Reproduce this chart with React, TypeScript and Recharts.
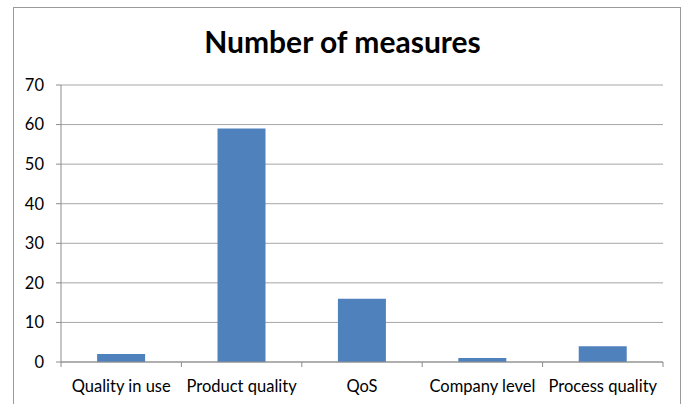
import { Bar, BarChart, CartesianGrid, XAxis, YAxis } from 'recharts';

const categories = ['Quality in use', 'Product quality', 'QoS', 'Company level', 'Process quality'];
const measures = [2, 59, 16, 1, 4];
const yTicks = [0, 10, 20, 30, 40, 50, 60, 70];

const data = categories.map((name, i) => ({ name, measures: measures[i] }));

const CHART_W = 685;
const CHART_H = 404;
const MARGIN = { top: 85, right: 22, bottom: 12, left: 21 };
const Y_AXIS_W = 40;
const AXIS_COLOR = '#8c8c8c';
const FONT = 'Lato, sans-serif';
const TICK_SIZE = 16.5;

// Category label at the band centre, tick marks on the band edges (Excel style)
function CategoryTick(props: any) {
  const { x, y, payload, index } = props;
  const plotW = CHART_W - MARGIN.left - MARGIN.right - Y_AXIS_W;
  const band = plotW / categories.length;
  const left = x - band / 2;
  return (
    <g>
      <line x1={left} y1={y - 8} x2={left} y2={y - 3} stroke={AXIS_COLOR} />
      {index === categories.length - 1 && (
        <line x1={left + band} y1={y - 8} x2={left + band} y2={y - 3} stroke={AXIS_COLOR} />
      )}
      <text x={x} y={y + 22} textAnchor="middle" fontSize={TICK_SIZE} fontFamily={FONT} fill="#000">
        {payload.value}
      </text>
    </g>
  );
}

export default function App() {
  return (
    <div style={{ position: 'absolute', left: 0, top: 0, width: CHART_W, height: CHART_H, background: '#fff' }}>
      <div
        style={{
          position: 'absolute',
          left: 13,
          top: 7,
          width: 666,
          height: 410,
          border: '1px solid #9a9a9a',
        }}
      />
      <div
        style={{
          position: 'absolute',
          left: 0,
          top: 23,
          width: CHART_W,
          textAlign: 'center',
          fontFamily: FONT,
          fontWeight: 700,
          fontSize: 30,
          lineHeight: 1.2,
          color: '#000',
        }}
      >
        Number of measures
      </div>
      <div style={{ position: 'absolute', left: 0, top: 0 }}>
        <BarChart width={CHART_W} height={CHART_H} data={data} margin={MARGIN} barCategoryGap="30%">
          <CartesianGrid vertical={false} stroke="#a6a6a6" />
          <XAxis
            dataKey="name"
            tickLine={false}
            axisLine={{ stroke: AXIS_COLOR }}
            tick={<CategoryTick />}
            height={30}
            interval={0}
          />
          <YAxis
            domain={[0, 70]}
            ticks={yTicks}
            width={Y_AXIS_W}
            tickSize={5}
            tickLine={{ stroke: AXIS_COLOR }}
            axisLine={{ stroke: AXIS_COLOR }}
            tick={{ fontSize: TICK_SIZE, fontFamily: FONT, fill: '#000', dx: -10 }}
            interval={0}
          />
          <Bar dataKey="measures" fill="#4f81bd" isAnimationActive={false} />
        </BarChart>
      </div>
    </div>
  );
}
